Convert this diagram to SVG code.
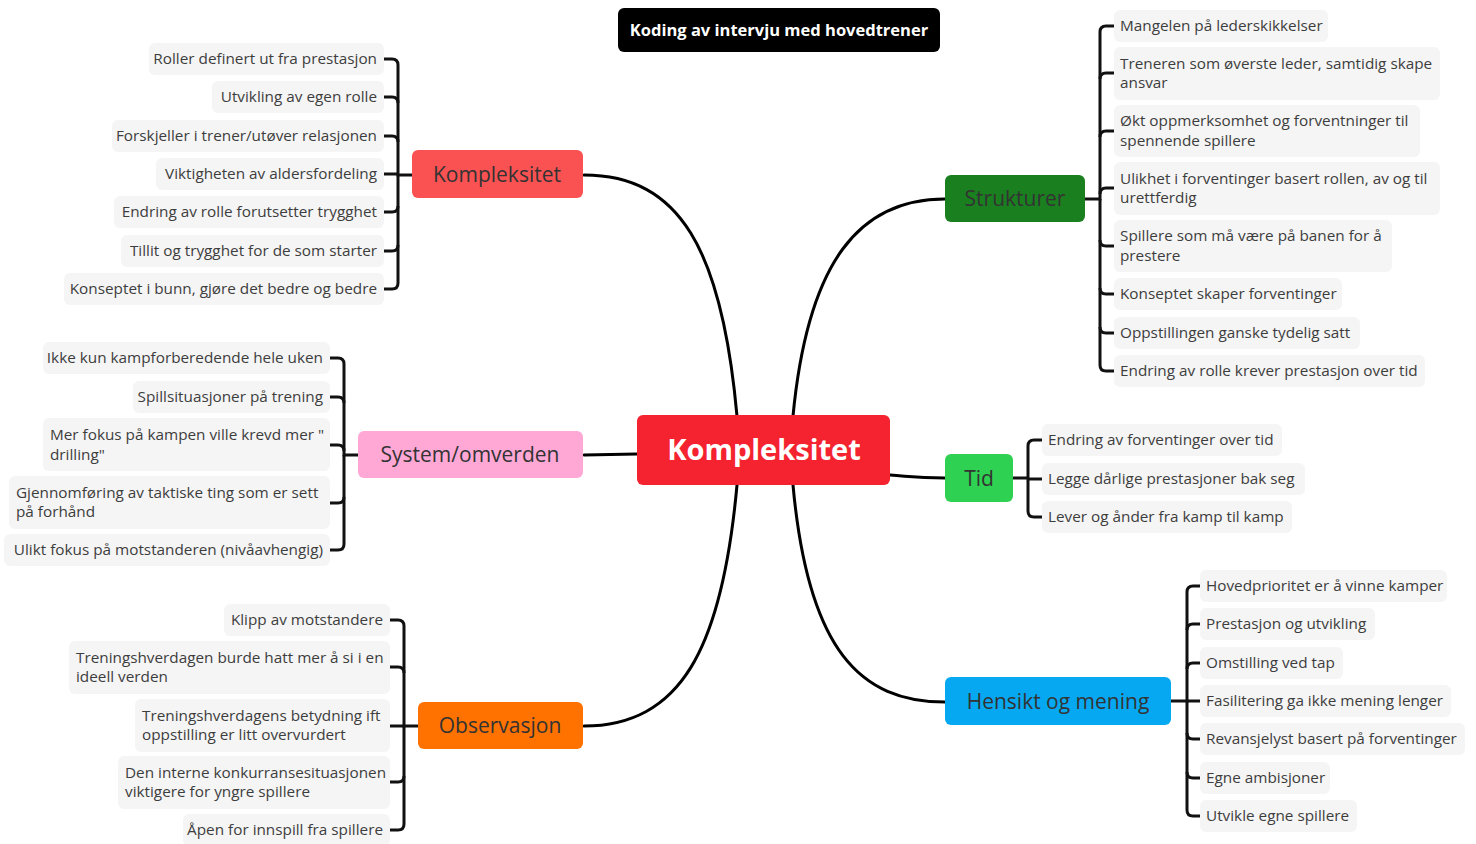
<svg xmlns="http://www.w3.org/2000/svg" width="1476" height="844" viewBox="0 0 1476 844">
<style>
.leaf rect{fill:#f5f5f5}
.leaf text{font-family:"Open Sans","Lato",sans-serif;font-size:15.3px;fill:#3d3d3d}
.l text{text-anchor:end}
.br text{font-family:"Open Sans","Lato",sans-serif;font-size:21px;fill:#333;text-anchor:middle}
.conn path{fill:none;stroke:#000;stroke-width:3;stroke-linecap:round}
.brk path{fill:none;stroke:#111;stroke-width:3}
</style>
<rect width="1476" height="844" fill="#fff"/>

<g id="connectors">
<g class="conn">
<path d="M737 416 C722 250 680 175 584 175"/>
<path d="M793 416 C808 260 860 199 945 199"/>
<path d="M584 455 L637 454"/>
<path d="M890 475 C915 477 918 478 945 478"/>
<path d="M737 485 C722 650 680 726 584 726"/>
<path d="M793 485 C808 650 860 702 945 702"/>
</g>
<g class="brk">
<path d="M412 175 H398 V65 Q398 59 392 59 H384"/>
<path d="M398 103 Q398 97 392 97 H384"/>
<path d="M398 142 Q398 136 392 136 H384"/>
<path d="M398 174 H384"/>
<path d="M398 175 V283 Q398 289 392 289 H384"/>
<path d="M398 206 Q398 212 392 212 H384"/>
<path d="M398 245 Q398 251 392 251 H384"/>
<path d="M358 455 H344 V364 Q344 358 338 358 H330"/>
<path d="M344 403 Q344 397 338 397 H330"/>
<path d="M344 451 Q344 445 338 445 H330"/>
<path d="M344 455 V544 Q344 550 338 550 H330"/>
<path d="M344 497 Q344 503 338 503 H330"/>
<path d="M418 726 H404 V626 Q404 620 398 620 H390"/>
<path d="M404 673 Q404 667 398 667 H390"/>
<path d="M404 726 H390"/>
<path d="M404 726 V824 Q404 830 398 830 H390"/>
<path d="M404 776 Q404 782 398 782 H390"/>
<path d="M1085 199 H1100 V32 Q1100 26 1106 26 H1114"/>
<path d="M1100 79 Q1100 73 1106 73 H1114"/>
<path d="M1100 137 Q1100 131 1106 131 H1114"/>
<path d="M1100 194 Q1100 188 1106 188 H1114"/>
<path d="M1100 199 V365 Q1100 371 1106 371 H1114"/>
<path d="M1100 240 Q1100 246 1106 246 H1114"/>
<path d="M1100 288 Q1100 294 1106 294 H1114"/>
<path d="M1100 327 Q1100 333 1106 333 H1114"/>
<path d="M1013 478 H1028 V446 Q1028 440 1034 440 H1042"/>
<path d="M1028 479 H1042"/>
<path d="M1028 478 V511 Q1028 517 1034 517 H1042"/>
<path d="M1171 701 H1187 V592 Q1187 586 1193 586 H1200"/>
<path d="M1187 630 Q1187 624 1193 624 H1200"/>
<path d="M1187 669 Q1187 663 1193 663 H1200"/>
<path d="M1187 701 H1200"/>
<path d="M1187 701 V810 Q1187 816 1193 816 H1200"/>
<path d="M1187 733 Q1187 739 1193 739 H1200"/>
<path d="M1187 772 Q1187 778 1193 778 H1200"/>
</g>
</g>

<g id="title">
<rect x="618" y="8" width="322" height="44" rx="6" fill="#000"/>
<text x="779" y="36" font-family="'Open Sans',Lato,sans-serif" font-size="16.5" font-weight="bold" fill="#fff" text-anchor="middle">Koding av intervju med hovedtrener</text>
</g>

<g id="central">
<rect x="637" y="415" width="253" height="70" rx="6" fill="#f5222f"/>
<text x="764" y="460" font-family="'Open Sans',Lato,sans-serif" font-size="29" font-weight="bold" fill="#fff" text-anchor="middle">Kompleksitet</text>
</g>

<g id="branch-kompleksitet" class="br">
<rect x="412" y="150" width="171" height="48" rx="6" fill="#fa5252"/>
<text x="497" y="182">Kompleksitet</text>
</g>
<g id="branch-system" class="br">
<rect x="358" y="431" width="225" height="47" rx="6" fill="#ffa8d6"/>
<text x="470" y="462">System/omverden</text>
</g>
<g id="branch-observasjon" class="br">
<rect x="418" y="702" width="165" height="47" rx="6" fill="#ff7200"/>
<text x="500" y="733">Observasjon</text>
</g>
<g id="branch-strukturer" class="br">
<rect x="945" y="175" width="140" height="47" rx="6" fill="#1a801f"/>
<text x="1015" y="206">Strukturer</text>
</g>
<g id="branch-tid" class="br">
<rect x="945" y="454" width="68" height="48" rx="6" fill="#2ed151"/>
<text x="979" y="486">Tid</text>
</g>
<g id="branch-hensikt" class="br">
<rect x="945" y="677" width="226" height="48" rx="6" fill="#06a8f2"/>
<text x="1058" y="709">Hensikt og mening</text>
</g>

<g id="k1" class="leaf l"><rect x="149" y="43" width="235" height="32" rx="6"/><text x="377" y="64">Roller definert ut fra prestasjon</text></g>
<g id="k2" class="leaf l"><rect x="212" y="81" width="172" height="32" rx="6"/><text x="377" y="102">Utvikling av egen rolle</text></g>
<g id="k3" class="leaf l"><rect x="112" y="120" width="272" height="32" rx="6"/><text x="377" y="141">Forskjeller i trener/utøver relasjonen</text></g>
<g id="k4" class="leaf l"><rect x="156" y="158" width="228" height="32" rx="6"/><text x="377" y="179">Viktigheten av aldersfordeling</text></g>
<g id="k5" class="leaf l"><rect x="114" y="196" width="270" height="32" rx="6"/><text x="377" y="217">Endring av rolle forutsetter trygghet</text></g>
<g id="k6" class="leaf l"><rect x="121" y="235" width="263" height="32" rx="6"/><text x="377" y="256">Tillit og trygghet for de som starter</text></g>
<g id="k7" class="leaf l"><rect x="64" y="273" width="320" height="32" rx="6"/><text x="377" y="294">Konseptet i bunn, gjøre det bedre og bedre</text></g>

<g id="s1" class="leaf l"><rect x="43" y="342" width="287" height="32" rx="6"/><text x="323" y="363">Ikke kun kampforberedende hele uken</text></g>
<g id="s2" class="leaf l"><rect x="133" y="381" width="197" height="32" rx="6"/><text x="323" y="402">Spillsituasjoner på trening</text></g>
<g id="s3" class="leaf"><rect x="43" y="418" width="287" height="53" rx="6"/><text x="50" y="440">Mer fokus på kampen ville krevd mer "</text><text x="50" y="460">drilling"</text></g>
<g id="s4" class="leaf"><rect x="9" y="476" width="321" height="53" rx="6"/><text x="16" y="498">Gjennomføring av taktiske ting som er sett</text><text x="16" y="517">på forhånd</text></g>
<g id="s5" class="leaf l"><rect x="4" y="534" width="326" height="32" rx="6"/><text x="323" y="555">Ulikt fokus på motstanderen (nivåavhengig)</text></g>

<g id="o1" class="leaf l"><rect x="224" y="604" width="166" height="32" rx="6"/><text x="383" y="625">Klipp av motstandere</text></g>
<g id="o2" class="leaf"><rect x="69" y="641" width="321" height="53" rx="6"/><text x="76" y="663">Treningshverdagen burde hatt mer å si i en</text><text x="76" y="682">ideell verden</text></g>
<g id="o3" class="leaf"><rect x="135" y="699" width="255" height="53" rx="6"/><text x="142" y="721">Treningshverdagens betydning ift</text><text x="142" y="740">oppstilling er litt overvurdert</text></g>
<g id="o4" class="leaf"><rect x="118" y="756" width="272" height="53" rx="6"/><text x="125" y="778">Den interne konkurransesituasjonen</text><text x="125" y="797">viktigere for yngre spillere</text></g>
<g id="o5" class="leaf l"><rect x="183" y="814" width="207" height="32" rx="6"/><text x="383" y="835">Åpen for innspill fra spillere</text></g>

<g id="st1" class="leaf"><rect x="1114" y="10" width="214" height="32" rx="6"/><text x="1120" y="31">Mangelen på lederskikkelser</text></g>
<g id="st2" class="leaf"><rect x="1114" y="47" width="326" height="53" rx="6"/><text x="1120" y="69">Treneren som øverste leder, samtidig skape</text><text x="1120" y="88">ansvar</text></g>
<g id="st3" class="leaf"><rect x="1114" y="105" width="306" height="52" rx="6"/><text x="1120" y="126">Økt oppmerksomhet og forventninger til</text><text x="1120" y="146">spennende spillere</text></g>
<g id="st4" class="leaf"><rect x="1114" y="162" width="326" height="53" rx="6"/><text x="1120" y="184">Ulikhet i forventinger basert rollen, av og til</text><text x="1120" y="203">urettferdig</text></g>
<g id="st5" class="leaf"><rect x="1114" y="220" width="278" height="52" rx="6"/><text x="1120" y="241">Spillere som må være på banen for å</text><text x="1120" y="261">prestere</text></g>
<g id="st6" class="leaf"><rect x="1114" y="278" width="228" height="32" rx="6"/><text x="1120" y="299">Konseptet skaper forventinger</text></g>
<g id="st7" class="leaf"><rect x="1114" y="317" width="246" height="32" rx="6"/><text x="1120" y="338">Oppstillingen ganske tydelig satt</text></g>
<g id="st8" class="leaf"><rect x="1114" y="355" width="311" height="32" rx="6"/><text x="1120" y="376">Endring av rolle krever prestasjon over tid</text></g>

<g id="t1" class="leaf"><rect x="1042" y="424" width="240" height="32" rx="6"/><text x="1048" y="445">Endring av forventinger over tid</text></g>
<g id="t2" class="leaf"><rect x="1042" y="463" width="263" height="32" rx="6"/><text x="1048" y="484">Legge dårlige prestasjoner bak seg</text></g>
<g id="t3" class="leaf"><rect x="1042" y="501" width="250" height="32" rx="6"/><text x="1048" y="522">Lever og ånder fra kamp til kamp</text></g>

<g id="h1" class="leaf"><rect x="1200" y="570" width="247" height="32" rx="6"/><text x="1206" y="591">Hovedprioritet er å vinne kamper</text></g>
<g id="h2" class="leaf"><rect x="1200" y="608" width="175" height="32" rx="6"/><text x="1206" y="629">Prestasjon og utvikling</text></g>
<g id="h3" class="leaf"><rect x="1200" y="647" width="143" height="32" rx="6"/><text x="1206" y="668">Omstilling ved tap</text></g>
<g id="h4" class="leaf"><rect x="1200" y="685" width="251" height="32" rx="6"/><text x="1206" y="706">Fasilitering ga ikke mening lenger</text></g>
<g id="h5" class="leaf"><rect x="1200" y="723" width="265" height="32" rx="6"/><text x="1206" y="744">Revansjelyst basert på forventinger</text></g>
<g id="h6" class="leaf"><rect x="1200" y="762" width="130" height="32" rx="6"/><text x="1206" y="783">Egne ambisjoner</text></g>
<g id="h7" class="leaf"><rect x="1200" y="800" width="157" height="32" rx="6"/><text x="1206" y="821">Utvikle egne spillere</text></g>
</svg>
